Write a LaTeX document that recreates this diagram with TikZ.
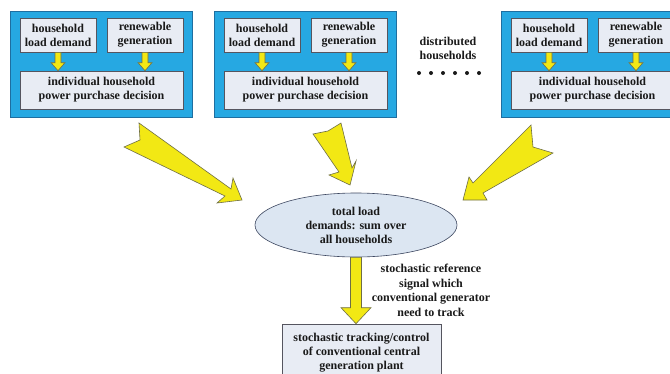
\documentclass[tikz,border=0pt]{standalone}
\usepackage{fontspec}
\setmainfont{Liberation Serif}
\usetikzlibrary{calc,shapes.geometric}
\definecolor{hblue}{RGB}{38,168,226}
\definecolor{hblueline}{RGB}{30,110,160}
\definecolor{ifill}{RGB}{232,236,244}
\definecolor{iline}{RGB}{85,85,95}
\definecolor{efill}{RGB}{220,230,242}
\definecolor{eline}{RGB}{60,70,95}
\definecolor{yfill}{RGB}{242,232,20}
\definecolor{yline}{RGB}{110,110,70}
\definecolor{txt}{RGB}{25,25,25}
\newcommand\vblock[5]{%
  \draw[yarrow] ($(#1)+(-#3,0)$) -- ($(#2)+(-#3,-#5)$) -- ($(#2)+(-#4,-#5)$) -- (#2)
    -- ($(#2)+(#4,-#5)$) -- ($(#2)+(#3,-#5)$) -- ($(#1)+(#3,0)$) -- cycle;}
\begin{document}
\begin{tikzpicture}[x=1pt,y=-1pt,
  lbl/.style={font=\bfseries\fontsize{12}{14}\selectfont, text=txt, align=center, inner sep=0pt},
  bluebox/.style={draw=hblueline, line width=0.6pt, fill=hblue, minimum width=182pt, minimum height=106pt, inner sep=0pt},
  ibox/.style={lbl, draw=iline, line width=0.6pt, fill=ifill},
  yarrow/.style={draw=yline, line width=0.6pt, fill=yfill, line join=miter}]
\useasboundingbox (0,0) rectangle (670,373);
\clip (0,0) rectangle (670,373);
\fill[white] (0,0) rectangle (670,373);

\foreach \o/\n in {0/A,204/B,491/C}{
  \node[bluebox] (blue\n) at (101+\o,64) {};
  \node[ibox, minimum width=76pt, minimum height=34pt] (hh\n) at (58+\o,35) {household\\load demand};
  \node[ibox, minimum width=76pt, minimum height=34pt] (ren\n) at (145+\o,35) {renewable\\generation};
  \node[ibox, minimum width=163pt, minimum height=38pt] (dec\n) at (101.5+\o,90) {individual household\\power purchase decision};
  \coordinate (e1\n) at (hh\n.south |- dec\n.north);
  \coordinate (e2\n) at (ren\n.south |- dec\n.north);
  \vblock{hh\n.south}{e1\n}{3}{7}{8}
  \vblock{ren\n.south}{e2\n}{3}{7}{8}
}

\node[lbl] (dist) at (448,48.5) {distributed\\households};
\foreach \i in {0,...,5}{\fill[txt] (419+12*\i,73) circle (2pt);}

% big converging arrows
\draw[yarrow] (139,123) -- (231,189) -- (233,178) -- (242,200) -- (217,203) -- (225,196) -- (124,147) -- (140,140) -- cycle;
\draw[yarrow] (341,123) -- (352,168) -- (356,161) -- (350,185) -- (329,175) -- (339,172) -- (313,134) -- (328,131) -- cycle;
\draw[yarrow] (531,125) -- (473,183) -- (469,177) -- (463,200) -- (487,200) -- (483,193) -- (553,153) -- (533,147) -- cycle;

\node[lbl, draw=eline, line width=0.6pt, fill=efill, ellipse, minimum width=202pt, minimum height=64pt] (tot) at (356,225) {total load\\demands: sum over\\all households};

\node[ibox, minimum width=159pt, minimum height=58pt] (plant) at (361.5,353) {stochastic tracking/control\\of conventional central\\generation plant};

\coordinate (dtip) at (tot.south |- plant.north);
\vblock{tot.south}{dtip}{5.5}{15}{16}

\node[lbl, font=\bfseries\fontsize{12}{14.5}\selectfont] (sig) at (431,290.5) {stochastic reference\\signal which\\conventional generator\\need to track};
\end{tikzpicture}
\end{document}
